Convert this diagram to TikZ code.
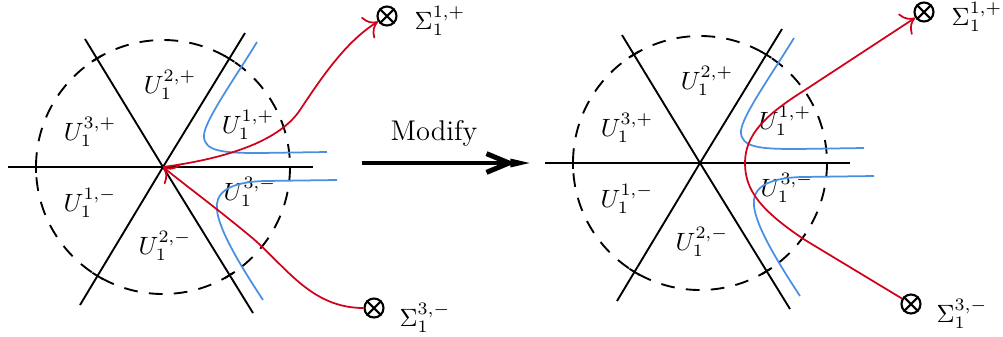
\documentclass[tikz,border=0pt]{standalone}
\usepackage{fontspec}
\usetikzlibrary{arrows.meta}
\definecolor{cred}{HTML}{D0021B}
\definecolor{cblue}{HTML}{4A90E2}
\tikzset{
  axisline/.style={line width=0.75pt},
  dcirc/.style={line width=0.75pt, dash pattern=on 5.5pt off 4.5pt},
  redc/.style={cred, line width=0.7pt},
  bluec/.style={cblue, line width=0.7pt},
  redarrow/.style={-{To[length=5pt,width=10pt]}},
  sig/.style={circle, draw, line width=0.85pt, minimum size=7.6pt, inner sep=0pt},
  lab/.style={inner sep=0pt},
}
\newcommand\panelbase{%
  \coordinate (c) at (0,0);
  \coordinate (hl) at (-155,0);
  \coordinate (hr) at (150,0);
  \coordinate (ul) at (-78,-128);
  \coordinate (ur) at (82,-134);
  \coordinate (ll) at (-83,138);
  \coordinate (lr) at (90,146);
  \draw[axisline] (hl) -- (hr);
  \draw[axisline] (ul) -- (c) -- (lr);
  \draw[axisline] (ur) -- (c) -- (ll);
  \draw[dcirc] (c) circle[radius=127];
  % ticks
  \draw[axisline] (-127,-6) -- (-127,6);
  \draw[axisline] (-71.2,-105.4) -- (-61.0,-111.6);
  \draw[axisline] (61.2,-111.4) -- (71.4,-105.2);
  \draw[axisline] (-70.6,105.8) -- (-60.4,112.0);
  \draw[axisline] (61.6,111.3) -- (71.8,104.9);
  % labels
  \node[lab] (u2p) at (7,-82) {$U_1^{2,+}$};
  \node[lab] (u3p) at (-73,-35) {$U_1^{3,+}$};
  \node[lab] (u1p) at (85,-42) {$U_1^{1,+}$};
  \node[lab] (u1m) at (-73,36) {$U_1^{1,-}$};
  \node[lab] (u2m) at (2,79) {$U_1^{2,-}$};
  \node[lab] (u3m) at (87,25) {$U_1^{3,-}$};
  % blue curves
  \draw[bluec] (94,-125) .. controls (72,-89) and (42,-47) .. (41,-32)
     .. controls (40,-15) and (62,-14) .. (97,-14) -- (164,-15);
  \draw[bluec] (174,13) -- (102,14) .. controls (62,15) and (52,28) .. (54,43)
     .. controls (56,63) and (77,98) .. (100,133);
  % sigma markers
  \node[sig] (s1) at (224,-151) {};
  \draw[line width=0.85pt] (s1.north west) -- (s1.south east) (s1.north east) -- (s1.south west);
  \node[sig] (s2) at (211,141) {};
  \draw[line width=0.85pt] (s2.north west) -- (s2.south east) (s2.north east) -- (s2.south west);
  \node[lab] (s1l) at (277,-146) {$\Sigma_1^{1,+}$};
  \node[lab] (s2l) at (262,151) {$\Sigma_1^{3,-}$};
}
\begin{document}
\begin{tikzpicture}[x=0.4pt,y=-0.4pt]
\useasboundingbox (0,0) rectangle (1003,336);
\begin{scope}[shift={(163,167)}, name prefix=L-]
  \panelbase
  \draw[redc, redarrow] (c) .. controls (67,-9) and (117,-27) .. (137,-57)
     .. controls (157,-87) and (182,-125) .. (s1);
  \draw[redc, redarrow] (s2) .. controls (147,141) and (122,98) .. (87,69)
     .. controls (52,40) and (22,18) .. (c);
\end{scope}
\begin{scope}[shift={(700,163)}, name prefix=R-]
  \panelbase
  \draw[redc, redarrow] (s2) -- (105,77) .. controls (60,47) and (45,27) .. (45,0)
     .. controls (45,-28) and (65,-48) .. (105,-73) -- (s1);
\end{scope}
\coordinate (ma) at (362,163);
\coordinate (mb) at (533,163);
\draw[line width=1.6pt, -{Straight Barb[length=9pt,width=7.5pt,line width=2pt,sep=-2pt]Stealth[length=9pt,width=3pt,inset=0pt]}] (ma) -- (mb);
\node[lab] (mod) at (434,133) {\fontsize{11.4}{14}\selectfont Modify};
\end{tikzpicture}
\end{document}
